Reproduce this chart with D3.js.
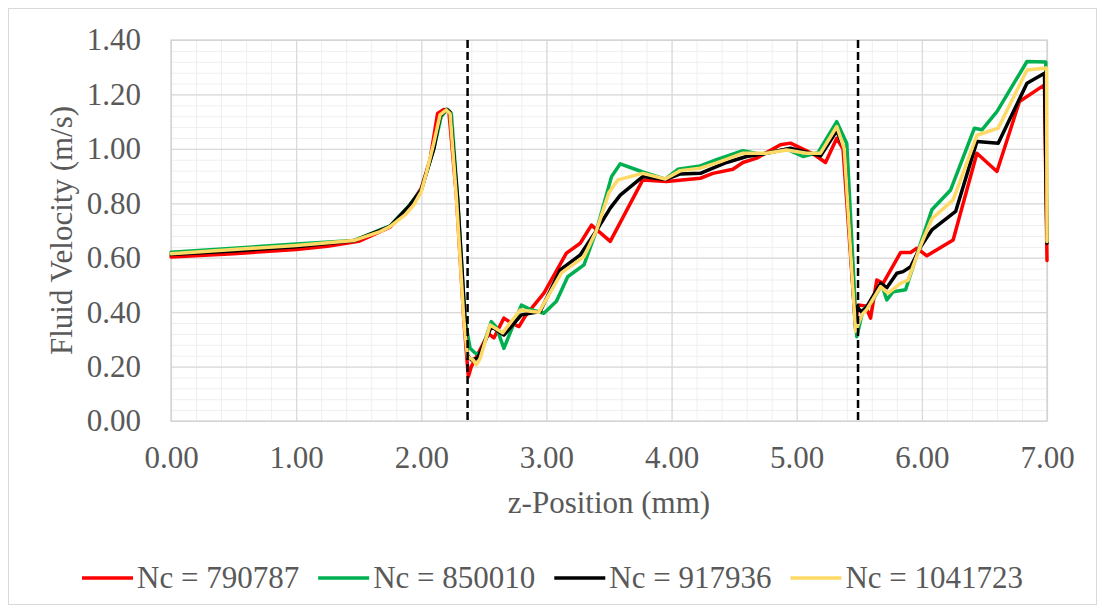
<!DOCTYPE html>
<html>
<head>
<meta charset="utf-8">
<script src="https://cdn.jsdelivr.net/npm/d3@7"></script>
<style>
  html, body { margin: 0; padding: 0; background: #fff; }
  svg { display: block; }
  text { font-family: "Liberation Serif", "Times New Roman", serif; fill: #595959; }
</style>
</head>
<body>
<svg id="chart" width="1105" height="613"></svg>
<script>
// Axis ticks
const xTicks = [0, 1, 2, 3, 4, 5, 6, 7];
const yTicks = [0, 0.2, 0.4, 0.6, 0.8, 1.0, 1.2, 1.4];
// Positions of the dashed reference lines (mm)
const markerZ = [2.37, 5.49];

// Series: [z-position (mm), fluid velocity (m/s)]
const seriesNames = ["Nc = 790787", "Nc = 850010", "Nc = 917936", "Nc = 1041723"];
const seriesColors = ["#ff0000", "#00b050", "#000000", "#ffd966"];

const nc790787 = [
  [0, 0.603], [0.5, 0.615], [1.0, 0.630], [1.25, 0.642], [1.5, 0.660], [1.75, 0.712],
  [1.9, 0.785], [2.0, 0.855], [2.07, 0.96], [2.13, 1.13], [2.18, 1.145], [2.22, 1.14],
  [2.28, 0.83], [2.34, 0.37], [2.376, 0.163], [2.40, 0.20], [2.44, 0.235], [2.51, 0.298],
  [2.54, 0.32], [2.58, 0.305], [2.66, 0.378], [2.72, 0.36], [2.78, 0.347], [2.83, 0.385],
  [2.98, 0.47], [3.16, 0.617], [3.27, 0.653], [3.36, 0.72], [3.51, 0.66], [3.77, 0.886],
  [3.96, 0.88], [4.23, 0.892], [4.33, 0.91], [4.49, 0.925], [4.57, 0.95], [4.68, 0.966],
  [4.87, 1.015], [4.95, 1.021], [5.13, 0.982], [5.23, 0.95], [5.32, 1.039], [5.37, 1.0],
  [5.47, 0.35], [5.49, 0.426], [5.55, 0.423], [5.59, 0.378], [5.64, 0.518], [5.69, 0.506],
  [5.83, 0.619], [5.91, 0.619], [5.96, 0.635], [6.04, 0.607], [6.14, 0.635], [6.25, 0.665],
  [6.44, 0.984], [6.60, 0.917], [6.78, 1.174], [6.98, 1.235], [7.0, 0.59]
];

const nc850010 = [
  [0, 0.620], [0.5, 0.635], [1.0, 0.650], [1.46, 0.663], [1.75, 0.717], [1.9, 0.79],
  [2.0, 0.85], [2.1, 1.0], [2.16, 1.12], [2.21, 1.145], [2.24, 1.13], [2.29, 0.82],
  [2.35, 0.37], [2.39, 0.267], [2.43, 0.25], [2.47, 0.243], [2.56, 0.365], [2.60, 0.345],
  [2.66, 0.267], [2.80, 0.426], [2.87, 0.41], [2.98, 0.396], [3.08, 0.44], [3.17, 0.53],
  [3.30, 0.574], [3.40, 0.70], [3.52, 0.898], [3.59, 0.945], [3.77, 0.915], [3.95, 0.889],
  [4.05, 0.925], [4.23, 0.9375], [4.37, 0.962], [4.57, 0.993], [4.71, 0.98], [4.92, 0.999],
  [5.05, 0.972], [5.17, 0.986], [5.32, 1.10], [5.40, 1.02], [5.48, 0.31], [5.53, 0.408],
  [5.60, 0.439], [5.68, 0.50], [5.72, 0.445], [5.77, 0.475], [5.87, 0.482], [5.99, 0.653],
  [6.08, 0.776], [6.23, 0.849], [6.42, 1.076], [6.48, 1.07], [6.60, 1.137], [6.84, 1.321],
  [6.99, 1.319], [7.0, 0.66]
];

const nc917936 = [
  [0, 0.612], [0.5, 0.625], [1.0, 0.640], [1.46, 0.662], [1.75, 0.715], [1.9, 0.788],
  [2.0, 0.85], [2.1, 1.0], [2.15, 1.12], [2.2, 1.145], [2.23, 1.135], [2.29, 0.82],
  [2.35, 0.37], [2.37, 0.24], [2.40, 0.225], [2.45, 0.23], [2.56, 0.347], [2.66, 0.316],
  [2.80, 0.39], [2.95, 0.402], [3.11, 0.555], [3.27, 0.61], [3.40, 0.70], [3.51, 0.782],
  [3.59, 0.83], [3.77, 0.898], [3.95, 0.887], [4.07, 0.908], [4.23, 0.91], [4.44, 0.95],
  [4.60, 0.972], [4.76, 0.984], [4.95, 1.002], [5.11, 0.984], [5.19, 0.974], [5.32, 1.066],
  [5.38, 1.0], [5.47, 0.34], [5.48, 0.42], [5.52, 0.40], [5.56, 0.42], [5.67, 0.506],
  [5.72, 0.49], [5.80, 0.543], [5.85, 0.549], [5.91, 0.567], [5.99, 0.64], [6.08, 0.702],
  [6.27, 0.77], [6.44, 1.027], [6.61, 1.021], [6.84, 1.241], [6.98, 1.278], [7.0, 0.653]
];

const nc1041723 = [
  [0, 0.615], [0.5, 0.630], [1.0, 0.645], [1.46, 0.663], [1.67, 0.696], [1.75, 0.714],
  [1.87, 0.757], [1.94, 0.794], [2.0, 0.843], [2.04, 0.91], [2.10, 1.021], [2.15, 1.125],
  [2.20, 1.143], [2.23, 1.13], [2.28, 0.825], [2.34, 0.371], [2.37, 0.236], [2.416, 0.224],
  [2.44, 0.206], [2.47, 0.23], [2.55, 0.353], [2.65, 0.324], [2.79, 0.408], [2.94, 0.40],
  [3.12, 0.544], [3.30, 0.604], [3.40, 0.70], [3.50, 0.84], [3.57, 0.886], [3.77, 0.91],
  [3.95, 0.889], [4.07, 0.92], [4.23, 0.929], [4.39, 0.953], [4.57, 0.984], [4.76, 0.984],
  [4.92, 0.996], [5.08, 0.984], [5.19, 0.984], [5.32, 1.082], [5.38, 1.0], [5.47, 0.33],
  [5.52, 0.39], [5.56, 0.41], [5.67, 0.494], [5.73, 0.47], [5.83, 0.506], [5.89, 0.518],
  [5.99, 0.645], [6.08, 0.743], [6.25, 0.8125], [6.44, 1.05], [6.61, 1.076], [6.84, 1.29],
  [6.997, 1.297], [7.0, 0.66]
];

const seriesData = [nc790787, nc850010, nc917936, nc1041723];

// Layout
const plot = { left: 171, right: 1047, top: 40, bottom: 421 };
const FONT = 31;

const svg = d3.select("#chart");

// Outer chart frame
svg.append("rect")
  .attr("x", 8.5).attr("y", 8.5)
  .attr("width", 1088).attr("height", 596)
  .attr("fill", "#fff").attr("stroke", "#d9d9d9").attr("stroke-width", 1);

const x = d3.scaleLinear().domain([0, 7]).range([plot.left, plot.right]);
const y = d3.scaleLinear().domain([0, 1.4]).range([plot.bottom, plot.top]);
const plotH = plot.bottom - plot.top;
const plotW = plot.right - plot.left;

// Minor gridlines
const xMinor = d3.range(0, 71, 2).map(d => d / 10);
const yMinor = d3.range(0, 36, 1).map(d => d * 0.04);

svg.append("g")
  .attr("transform", `translate(0,${plot.bottom})`)
  .call(d3.axisBottom(x).tickValues(xMinor).tickSize(-plotH).tickFormat(""))
  .call(g => g.select(".domain").remove())
  .call(g => g.selectAll("line").attr("stroke", "#efefef").attr("stroke-width", 1));

svg.append("g")
  .attr("transform", `translate(${plot.left},0)`)
  .call(d3.axisLeft(y).tickValues(yMinor).tickSize(-plotW).tickFormat(""))
  .call(g => g.select(".domain").remove())
  .call(g => g.selectAll("line").attr("stroke", "#efefef").attr("stroke-width", 1));

// Major gridlines
svg.append("g")
  .attr("transform", `translate(0,${plot.bottom})`)
  .call(d3.axisBottom(x).tickValues(xTicks).tickSize(-plotH).tickFormat(""))
  .call(g => g.select(".domain").remove())
  .call(g => g.selectAll("line").attr("stroke", "#d9d9d9").attr("stroke-width", 1.2));

svg.append("g")
  .attr("transform", `translate(${plot.left},0)`)
  .call(d3.axisLeft(y).tickValues(yTicks).tickSize(-plotW).tickFormat(""))
  .call(g => g.select(".domain").remove())
  .call(g => g.selectAll("line").attr("stroke", "#d9d9d9").attr("stroke-width", 1.2));

// Plot frame
svg.append("rect")
  .attr("x", plot.left).attr("y", plot.top)
  .attr("width", plotW).attr("height", plotH)
  .attr("fill", "none").attr("stroke", "#d0d0d0").attr("stroke-width", 1.2);

// Tick labels
const fmt = d3.format(".2f");
svg.append("g")
  .attr("transform", `translate(0,${plot.bottom})`)
  .call(d3.axisBottom(x).tickValues(xTicks).tickSize(0).tickPadding(25).tickFormat(fmt))
  .call(g => g.select(".domain").remove())
  .call(g => g.selectAll("text")
    .attr("font-size", FONT).attr("font-family", null).attr("fill", "#595959"));

svg.append("g")
  .attr("transform", `translate(${plot.left},0)`)
  .call(d3.axisLeft(y).tickValues(yTicks).tickSize(0).tickPadding(30).tickFormat(fmt))
  .call(g => g.select(".domain").remove())
  .call(g => g.selectAll("text")
    .attr("font-size", FONT).attr("font-family", null).attr("fill", "#595959"));

// Axis titles
svg.append("text")
  .attr("x", (plot.left + plot.right) / 2).attr("y", 513)
  .attr("text-anchor", "middle").attr("font-size", FONT)
  .text("z-Position (mm)");

svg.append("text")
  .attr("transform", `translate(72,${(plot.top + plot.bottom) / 2}) rotate(-90)`)
  .attr("text-anchor", "middle").attr("font-size", FONT)
  .text("Fluid Velocity (m/s)");

// Series lines
const line = d3.line().x(d => x(d[0])).y(d => y(d[1]));
svg.append("g")
  .selectAll("path")
  .data(seriesData)
  .join("path")
  .attr("d", line)
  .attr("fill", "none")
  .attr("stroke", (d, i) => seriesColors[i])
  .attr("stroke-width", 3.5)
  .attr("stroke-linejoin", "round")
  .attr("stroke-linecap", "round");

// Dashed reference lines
svg.append("g")
  .selectAll("line")
  .data(markerZ)
  .join("line")
  .attr("x1", d => x(d)).attr("x2", d => x(d))
  .attr("y1", plot.top).attr("y2", plot.bottom)
  .attr("stroke", "#000").attr("stroke-width", 2.5)
  .attr("stroke-dasharray", "8,4");

// Legend
const legend = svg.append("g");
let lx = 82;
const ly = 578;
seriesNames.forEach((name, i) => {
  legend.append("line")
    .attr("x1", lx).attr("x2", lx + 51)
    .attr("y1", ly).attr("y2", ly)
    .attr("stroke", seriesColors[i]).attr("stroke-width", 3.5);
  const t = legend.append("text")
    .attr("x", lx + 55).attr("y", 588)
    .attr("font-size", FONT)
    .text(name);
  lx += 55 + t.node().getComputedTextLength() + 19;
});
</script>
</body>
</html>
